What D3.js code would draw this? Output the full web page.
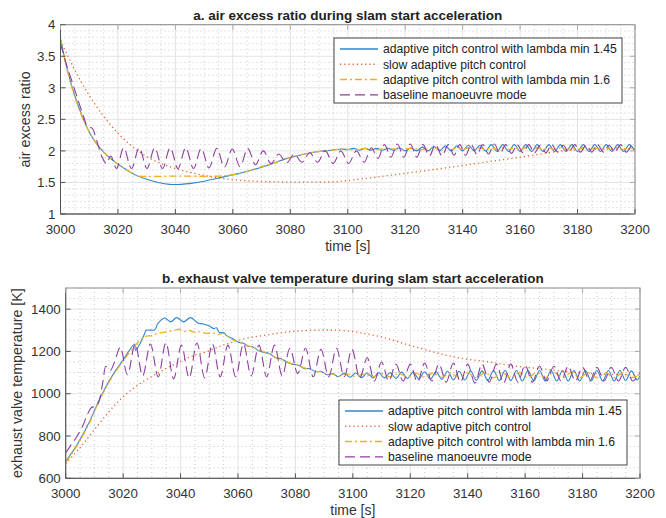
<!DOCTYPE html>
<html><head><meta charset="utf-8">
<script src="https://cdn.jsdelivr.net/npm/d3@7/dist/d3.min.js"></script>
<style>body{margin:0;background:#fff}svg{display:block}text{font-family:Arial,"Liberation Sans",Helvetica,sans-serif}</style>
</head><body>
<svg id="chart" width="666" height="518"></svg>
<script>
// ---------- data ----------
const xTicks = [3000,3020,3040,3060,3080,3100,3120,3140,3160,3180,3200];
const yTicksA = [1,1.5,2,2.5,3,3.5,4];
const yTicksB = [600,800,1000,1200,1400];
const legendLabels = ["adaptive pitch control with lambda min 1.45","slow adaptive pitch control","adaptive pitch control with lambda min 1.6","baseline manoeuvre mode"];
const titleA = "a. air excess ratio during slam start acceleration";
const titleB = "b. exhaust valve temperature during slam start acceleration";

// panel a: air excess ratio
const blueA = [[3000,3.78],[3002,3.36],[3004,3.02],[3006,2.74],[3008,2.5],[3010,2.3],[3012,2.15],[3015,1.98],[3018,1.86],[3020,1.79],[3023,1.7],[3026,1.62],[3030,1.55],[3034,1.5],[3038,1.47],[3042,1.47],[3046,1.49],[3050,1.52],[3054,1.56],[3058,1.6],[3062,1.64],[3066,1.69],[3070,1.74],[3074,1.8],[3078,1.87],[3082,1.92],[3086,1.96],[3090,1.99],[3094,2.01],[3098,2.03],
 [3100,2.02],[3102,2.04],[3104,2.01],[3106,2.04],[3108,2.01],[3110,2.04],[3112,2.01],[3114,2.04],[3116,2.01],[3118,2.05],[3120,2.0],[3122,2.05],[3124,2.0],[3126,2.06],[3128,2.0],[3130,2.07],[3132,2.0],[3134,2.08],[3136,2.0],[3138,2.08],[3140,2.0],[3142,2.09],[3144,2.0],[3146,2.09],[3148,2.0],[3150,2.1],[3152,1.99],[3154,2.1],[3156,1.99],[3158,2.1],[3160,1.99],[3162,2.1],[3164,1.99],[3166,2.1],[3168,1.99],[3170,2.1],[3172,1.99],[3174,2.1],[3176,1.99],[3178,2.1],[3180,1.99],[3182,2.1],[3184,1.99],[3186,2.1],[3188,1.99],[3190,2.1],[3192,1.99],[3194,2.1],[3196,1.99],[3198,2.1],[3200,2.0]];
const orangeA = [[3000,3.75],[3005,3.28],[3010,2.88],[3015,2.55],[3020,2.28],[3025,2.07],[3030,1.91],[3035,1.8],[3040,1.72],[3045,1.66],[3050,1.61],[3055,1.57],[3060,1.545],[3065,1.525],[3070,1.515],[3080,1.505],[3090,1.505],[3095,1.51],[3100,1.53],[3110,1.585],[3120,1.645],[3130,1.705],[3140,1.77],[3150,1.835],[3160,1.9],[3170,1.97],[3175,2.0],[3180,2.02],[3190,2.03],[3200,2.03]];
const yellowA = [[3000,3.76],[3002,3.34],[3004,3.0],[3006,2.72],[3008,2.49],[3010,2.3],[3012,2.15],[3015,1.98],[3018,1.86],[3020,1.79],[3023,1.7],[3026,1.62],[3027.5,1.6],[3040,1.6],[3055,1.6],[3058,1.61],[3062,1.64],[3066,1.69],[3070,1.75],[3074,1.8],[3078,1.87],[3082,1.92],[3086,1.96],[3090,1.99],[3094,2.01],[3098,2.03],
 [3102,2.02],[3106,2.04],[3110,2.02],[3114,2.04],[3118,2.02],[3122,2.04],[3126,2.02],[3130,2.05],[3132,2.02],[3134,2.05],[3136,2.02],[3138,2.05],[3140,2.02],[3142,2.05],[3144,2.02],[3146,2.05],[3148,2.02],[3150,2.05],[3152,2.02],[3154,2.05],[3156,2.02],[3158,2.05],[3160,2.02],[3162,2.05],[3164,2.02],[3166,2.05],[3168,2.02],[3170,2.05],[3172,2.02],[3174,2.05],[3176,2.02],[3178,2.05],[3180,2.02],[3182,2.05],[3184,2.02],[3186,2.05],[3188,2.02],[3190,2.05],[3192,2.02],[3194,2.05],[3196,2.02],[3198,2.05],[3200,2.03]];
const purpleA = [[3000,3.70],[3002,3.38],[3004,3.1],[3006,2.82],[3008,2.55],[3009.5,2.38],[3011,2.36],[3012.5,2.18],[3014.5,1.9],[3016,1.8],[3017.5,1.92],[3019.5,1.72],[3022,2.05],[3024.7,1.72],[3027.4,2.05],[3030.1,1.72],[3032.8,2.05],[3035.5,1.72],[3038.2,2.05],[3040.9,1.72],[3043.6,2.05],[3046.3,1.72],[3049,2.04],[3051.7,1.73],[3054.4,2.04],[3057.1,1.74],[3059.8,2.03],[3062.5,1.75],[3065.2,2.04],[3067.9,1.78],[3070.6,2.0],[3073.3,1.8],[3076,1.95],[3078.7,1.81],[3081.4,1.95],[3084.1,1.82],[3086.8,1.97],[3089.5,1.82],[3092.2,2.0],[3094.9,1.8],[3097.6,2.0],[3100.3,1.8],[3103,2.0],[3105.7,1.82],[3108.2,2.05],[3110.5,1.88],[3112.8,2.1],[3115,1.9],[3117.3,2.11],[3119.5,1.9],[3121.8,2.11],[3124,1.9],[3126.2,2.1],[3128.4,1.92],[3130.6,2.1],[3132.8,1.92],[3135,2.1],[3137,1.93],[3139,2.1],[3141,1.93],[3143,2.1],[3145,1.94],[3147,2.1],[3149,1.95],[3151,2.11],[3153,1.96],[3155,2.1],[3157,1.96],[3159,2.1],[3161,1.97],[3163,2.1],[3165,1.97],[3167,2.09],[3169,1.97],[3171,2.1],[3173,1.98],[3175,2.09],[3177,1.98],[3179,2.1],[3181,1.98],[3183,2.09],[3185,1.98],[3187,2.1],[3189,1.98],[3191,2.09],[3193,1.98],[3195,2.1],[3197,1.98],[3199,2.09],[3200,2.05]];

// panel b: exhaust valve temperature
const blueB = [[3000,680],[3004,760],[3008,860],[3012,980],[3016,1080],[3020,1160],[3024,1235],[3024.3,1205],[3026,1240],[3027.5,1285],[3028,1300],[3031,1302],[3032,1330],[3034.5,1358],[3036.5,1340],[3038.7,1360],[3041,1340],[3043.5,1360],[3046,1335],[3048,1330],[3050,1320],[3051.5,1308],[3052.5,1312],[3053.5,1290],[3055,1290],[3056,1275],[3058,1262],[3060,1245],[3062,1238],[3063.5,1225],[3065,1222],[3067,1205],[3069,1195],[3071,1190],[3073,1170],[3075,1165],[3077,1150],[3079,1140],[3081,1135],[3083,1120],[3085,1118],[3087,1105],[3089,1105],[3091,1090],[3093,1095],
 [3095,1080],[3097,1098],[3099,1078],[3101,1098],[3103,1076],[3105,1098],[3107,1075],[3109,1100],[3111,1075],[3113,1100],[3115,1072],[3117,1102],[3119,1072],[3121,1102],[3123,1070],[3125,1104],[3127,1068],[3129,1104],[3131,1068],[3133,1106],[3135,1066],[3137,1106],[3139,1065],[3141,1108],[3143,1063],[3145,1108],[3147,1062],[3149,1110],[3151,1062],[3153,1110],[3155,1062],[3157,1110],[3159,1060],[3161,1110],[3163,1060],[3165,1110],[3167,1060],[3169,1110],[3171,1060],[3173,1110],[3175,1060],[3177,1110],[3179,1060],[3181,1110],[3183,1060],[3185,1110],[3187,1060],[3189,1110],[3191,1060],[3193,1110],[3195,1062],[3197,1108],[3199,1065],[3200,1085]];
const orangeB = [[3000,670],[3005,745],[3010,830],[3016.6,939],[3020,985],[3025,1040],[3029.9,1081],[3035,1120],[3039.8,1152],[3044,1178],[3049.1,1199],[3054,1225],[3058.4,1246],[3064,1265],[3070,1278],[3076,1290],[3081.6,1297],[3088.6,1301],[3093,1301],[3100.2,1294],[3106,1280],[3111.8,1262],[3117,1240],[3123.4,1215],[3129,1194],[3134.9,1175],[3140,1163],[3146.6,1152],[3152,1140],[3158.2,1128],[3164,1120],[3169.8,1112],[3175,1104],[3181.4,1097],[3190,1092],[3198.8,1089],[3200,1089]];
const yellowB = [[3000,675],[3004,755],[3008,855],[3012,975],[3016,1075],[3020,1155],[3024,1225],[3026,1255],[3027,1265],[3028,1272],[3030,1275],[3032,1285],[3034,1290],[3036,1295],[3038,1300],[3039.5,1305],[3041,1295],[3043,1300],[3045,1290],[3047,1292],[3049,1285],[3051,1288],[3053,1280],[3055,1285],[3057,1265],[3059,1250],[3061,1240],[3063,1228],[3065,1222],[3067,1208],[3069,1198],[3071,1188],[3073,1172],[3075,1163],[3077,1152],[3079,1140],[3081,1135],[3083,1122],[3085,1116],[3087,1106],[3089,1103],[3091,1092],[3093,1094],
 [3095,1082],[3098,1094],[3101,1082],[3104,1094],[3107,1080],[3110,1095],[3113,1080],[3116,1096],[3119,1078],[3122,1097],[3125,1078],[3128,1098],[3131,1077],[3134,1098],[3137,1076],[3140,1099],[3143,1075],[3146,1100],[3149,1075],[3152,1100],[3155,1075],[3158,1100],[3161,1075],[3164,1100],[3167,1075],[3170,1100],[3173,1075],[3176,1100],[3179,1075],[3182,1100],[3185,1075],[3188,1100],[3191,1075],[3194,1100],[3197,1076],[3200,1090]];
const purpleB = [[3000,720],[3002,760],[3004,800],[3006,850],[3007.5,900],[3009,935],[3010.5,940],[3011.5,960],[3013,1060],[3014,1130],[3015.5,1110],[3017,1150],[3019,1220],[3021.5,1090],[3024.2,1235],[3026.8,1085],[3029.5,1235],[3032.2,1080],[3034.9,1240],[3037.6,1070],[3040.3,1230],[3043,1075],[3045.7,1240],[3048.4,1075],[3051.1,1235],[3053.8,1080],[3056.5,1230],[3059.2,1080],[3061.9,1235],[3064.6,1085],[3067.3,1230],[3070,1080],[3072.7,1230],[3075.4,1085],[3078.1,1215],[3080.8,1095],[3083.5,1215],[3086.2,1080],[3088.9,1210],[3091.6,1080],[3094.3,1215],[3097,1080],[3099.7,1210],[3102.4,1075],[3105,1170],[3107.5,1060],[3110,1150],[3112.5,1060],[3115,1140],[3117.5,1060],[3120,1140],[3122.5,1055],[3125,1145],[3127.5,1060],[3130,1140],[3132.5,1055],[3135,1145],[3137.5,1055],[3140,1140],[3142.5,1050],[3145,1140],[3147.5,1055],[3150,1140],[3152.5,1050],[3155,1140],[3157.5,1055],[3160,1135],[3162.5,1055],[3165,1130],[3167.5,1060],[3170,1130],[3172.5,1060],[3175,1130],[3177.5,1060],[3180,1125],[3182.5,1060],[3185,1125],[3187.5,1060],[3190,1125],[3192.5,1060],[3195,1125],[3197.5,1060],[3200,1100]];

// ---------- styling ----------
const styles = [
  {color:"#2f86cc", dash:null, w:1.1},
  {color:"#E0622A", dash:"1.2,3", w:1.3},
  {color:"#EDB120", dash:"7,3,2,3", w:1.3},
  {color:"#8E3FA0", dash:"10,5", w:1.1}
];

const svg = d3.select("#chart");
svg.append("rect").attr("width",666).attr("height",518).attr("fill","#fff");

function panel(cfg){
  const x = d3.scaleLinear().domain([3000,3200]).range([cfg.left,cfg.right]);
  const y = d3.scaleLinear().domain(cfg.ydom).range([cfg.bottom,cfg.top]);
  const g = svg.append("g");
  // minor grid
  const xMinor = d3.range(3000,3200.1,5).filter(v=>v%20!==0);
  const yMinor = d3.range(cfg.ydom[0],cfg.ydom[1]+1e-9,cfg.ymstep).filter(v=>!cfg.yticks.some(t=>Math.abs(t-v)<1e-9) && Math.abs(v-cfg.ydom[1])>1e-9 && Math.abs(v-cfg.ydom[0])>1e-9);
  g.selectAll(".xm").data(xMinor).join("line").attr("x1",d=>x(d)).attr("x2",d=>x(d)).attr("y1",cfg.top).attr("y2",cfg.bottom)
    .attr("stroke","#c8c8c8").attr("stroke-width",1).attr("stroke-dasharray","1,3");
  g.selectAll(".ym").data(yMinor).join("line").attr("y1",d=>y(d)).attr("y2",d=>y(d)).attr("x1",cfg.left).attr("x2",cfg.right)
    .attr("stroke","#c8c8c8").attr("stroke-width",1).attr("stroke-dasharray","1,3");
  // major grid
  g.selectAll(".xg").data(xTicks).join("line").attr("x1",d=>x(d)).attr("x2",d=>x(d)).attr("y1",cfg.top).attr("y2",cfg.bottom)
    .attr("stroke","#e3e3e3").attr("stroke-width",1);
  g.selectAll(".yg").data(cfg.yticks).join("line").attr("y1",d=>y(d)).attr("y2",d=>y(d)).attr("x1",cfg.left).attr("x2",cfg.right)
    .attr("stroke","#e3e3e3").attr("stroke-width",1);
  // lines
  const clipId = "clip"+cfg.id;
  svg.append("clipPath").attr("id",clipId).append("rect").attr("x",cfg.left).attr("y",cfg.top).attr("width",cfg.right-cfg.left).attr("height",cfg.bottom-cfg.top);
  const line = d3.line().x(d=>x(d[0])).y(d=>y(d[1])).curve(d3.curveCatmullRom.alpha(0.5));
  const lg = g.append("g").attr("clip-path",`url(#${clipId})`);
  cfg.series.forEach((s,i)=>{
    const st = styles[i];
    lg.append("path").datum(s).attr("d",line).attr("fill","none").attr("stroke",st.color)
      .attr("stroke-width",st.w).attr("stroke-dasharray",st.dash);
  });
  // axes box
  const ax = g.append("g");
  ax.append("rect").attr("x",cfg.left).attr("y",cfg.top).attr("width",cfg.right-cfg.left).attr("height",cfg.bottom-cfg.top)
    .attr("fill","none").attr("stroke","#8a8a8a").attr("stroke-width",1);
  ax.append("line").attr("x1",cfg.left).attr("x2",cfg.right).attr("y1",cfg.bottom).attr("y2",cfg.bottom).attr("stroke","#555");
  ax.append("line").attr("x1",cfg.left).attr("x2",cfg.left).attr("y1",cfg.top).attr("y2",cfg.bottom).attr("stroke","#555");
  const tl = 5;
  ax.selectAll(".xt").data(xTicks).join("line").attr("x1",d=>x(d)).attr("x2",d=>x(d)).attr("y1",cfg.bottom).attr("y2",cfg.bottom-tl).attr("stroke","#555");
  ax.selectAll(".xt2").data(xTicks).join("line").attr("x1",d=>x(d)).attr("x2",d=>x(d)).attr("y1",cfg.top).attr("y2",cfg.top+tl).attr("stroke","#aaa");
  ax.selectAll(".yt").data(cfg.yticks).join("line").attr("y1",d=>y(d)).attr("y2",d=>y(d)).attr("x1",cfg.left).attr("x2",cfg.left+tl).attr("stroke","#555");
  ax.selectAll(".yt2").data(cfg.yticks).join("line").attr("y1",d=>y(d)).attr("y2",d=>y(d)).attr("x1",cfg.right).attr("x2",cfg.right-tl).attr("stroke","#aaa");
  // tick labels
  ax.selectAll(".xl").data(xTicks).join("text").attr("x",d=>x(d)).attr("y",cfg.bottom+19.5).attr("text-anchor","middle")
    .attr("font-size",13.3).attr("fill","#333").text(d=>d);
  ax.selectAll(".yl").data(cfg.ylabels).join("text").attr("x",cfg.left-5).attr("y",d=>y(d)+4.7).attr("text-anchor","end")
    .attr("font-size",13.3).attr("fill","#333").text(d=>d);
  // labels
  ax.append("text").attr("x",(cfg.left+cfg.right)/2).attr("y",cfg.bottom+37).attr("text-anchor","middle").attr("font-size",14).attr("fill","#333").text("time [s]");
  ax.append("text").attr("transform",`translate(${cfg.ylabx},${(cfg.top+cfg.bottom)/2}) rotate(-90)`).attr("text-anchor","middle").attr("font-size",14.3).attr("fill","#333").text(cfg.ylabel);
  ax.append("text").attr("x",(cfg.left+cfg.right)/2).attr("y",cfg.top-5).attr("text-anchor","middle").attr("font-size",13.5).attr("font-weight","bold").attr("fill","#222").text(cfg.title);
  // legend
  const L = cfg.legend;
  const leg = g.append("g");
  leg.append("rect").attr("x",L.x).attr("y",L.y).attr("width",L.w).attr("height",L.h).attr("fill","#fff").attr("stroke","#444").attr("stroke-width",1);
  legendLabels.forEach((lab,i)=>{
    const yy = L.y + 11 + i*15.3;
    const st = styles[i];
    leg.append("line").attr("x1",L.x+6).attr("x2",L.x+44).attr("y1",yy).attr("y2",yy).attr("stroke",st.color).attr("stroke-width",st.w+0.2).attr("stroke-dasharray",st.dash);
    leg.append("text").attr("x",L.x+49).attr("y",yy+4.3).attr("font-size",12.2).attr("fill","#222").text(lab);
  });
}

panel({id:"a", left:60.5, right:635, top:24.7, bottom:214, ydom:[1,4], yticks:yTicksA, ylabels:yTicksA, ymstep:0.1,
  ylabel:"air excess ratio", ylabx:30, title:titleA, series:[blueA,orangeA,yellowA,purpleA],
  legend:{x:334, y:38, w:288, h:65}});
panel({id:"b", left:65.7, right:640, top:288, bottom:478.3, ydom:[600,1500], yticks:yTicksB, ylabels:yTicksB, ymstep:50,
  ylabel:"exhaust valve temperature [K]", ylabx:22, title:titleB, series:[blueB,orangeB,yellowB,purpleB],
  legend:{x:339, y:400, w:288, h:65}});
</script>
</body></html>
